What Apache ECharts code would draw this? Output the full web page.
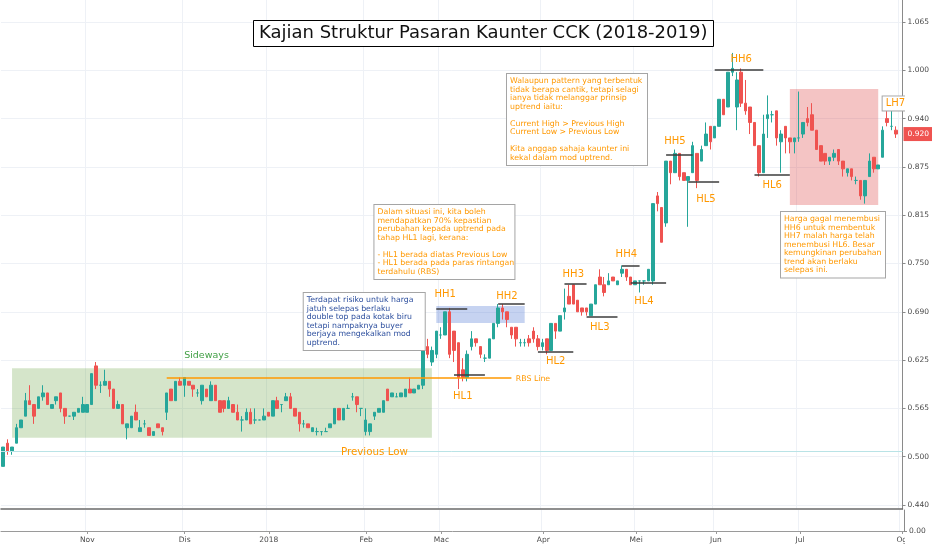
<!DOCTYPE html>
<html>
<head>
<meta charset="utf-8">
<script src="https://cdn.jsdelivr.net/npm/echarts@6.0.0/dist/echarts.min.js"></script>
<style>
  html, body { margin: 0; padding: 0; background: #fff; }
  #main { width: 932px; height: 550px; }
</style>
</head>
<body>
<div id="main"></div>
<script>
// daily candles (tick size 0.005)
const open = [
  0.49, 0.52, 0.51, 0.52, 0.54, 0.555, 0.575, 0.57, 0.565, 0.58,
  0.585, 0.565, 0.575, 0.585, 0.565, 0.555, 0.555, 0.56, 0.56, 0.56,
  0.57, 0.62, 0.595, 0.595, 0.60, 0.59, 0.565, 0.57, 0.54, 0.54,
  0.56, 0.535, 0.545, 0.54, 0.53, 0.545, 0.54, 0.56, 0.59, 0.575,
  0.60, 0.595, 0.60, 0.595, 0.585, 0.575, 0.59, 0.575, 0.595, 0.575,
  0.575, 0.565, 0.57, 0.56, 0.55, 0.55, 0.56, 0.55, 0.55, 0.55,
  0.56, 0.555, 0.575, 0.57, 0.575, 0.58, 0.565, 0.56, 0.545, 0.545,
  0.535, 0.535, 0.535, 0.535, 0.54, 0.545, 0.565, 0.55, 0.565, 0.58,
  0.58, 0.565, 0.535, 0.535, 0.555, 0.56, 0.56, 0.59, 0.58, 0.58,
  0.58, 0.58, 0.59, 0.585, 0.59, 0.595, 0.645, 0.625, 0.635, 0.66,
  0.66, 0.69, 0.665, 0.65, 0.615, 0.605, 0.645, 0.655, 0.645, 0.63,
  0.63, 0.655, 0.675, 0.695, 0.69, 0.67, 0.67, 0.65, 0.65, 0.655,
  0.665, 0.655, 0.645, 0.655, 0.64, 0.675, 0.665, 0.69, 0.71, 0.725,
  0.705, 0.695, 0.695, 0.685, 0.70, 0.735, 0.725, 0.725, 0.735, 0.725,
  0.74, 0.745, 0.735, 0.725, 0.73, 0.73, 0.73, 0.73, 0.84, 0.825,
  0.805, 0.885, 0.87, 0.895, 0.87, 0.86, 0.87, 0.895, 0.885, 0.905,
  0.93, 0.915, 0.93, 0.965, 0.955, 1.00, 0.955, 1.00, 0.96, 0.955,
  0.935, 0.905, 0.87, 0.94, 0.945, 0.95, 0.91, 0.93, 0.915, 0.91,
  0.915, 0.92, 0.94, 0.945, 0.925, 0.905, 0.895, 0.885, 0.89, 0.90,
  0.885, 0.87, 0.875, 0.86, 0.86, 0.84, 0.865, 0.89, 0.875, 0.89,
  0.94, 0.93, 0.925
];
const close = [
  0.515, 0.51, 0.515, 0.54, 0.55, 0.575, 0.57, 0.555, 0.58, 0.585,
  0.57, 0.57, 0.58, 0.565, 0.555, 0.555, 0.56, 0.565, 0.57, 0.57,
  0.61, 0.595, 0.595, 0.60, 0.59, 0.565, 0.57, 0.545, 0.545, 0.555,
  0.55, 0.54, 0.545, 0.53, 0.535, 0.54, 0.535, 0.585, 0.575, 0.60,
  0.595, 0.605, 0.595, 0.59, 0.585, 0.595, 0.58, 0.595, 0.575, 0.56,
  0.565, 0.575, 0.56, 0.55, 0.55, 0.56, 0.545, 0.55, 0.55, 0.555,
  0.555, 0.575, 0.565, 0.57, 0.58, 0.565, 0.555, 0.545, 0.545, 0.54,
  0.54, 0.535, 0.535, 0.535, 0.545, 0.565, 0.55, 0.565, 0.565, 0.58,
  0.57, 0.565, 0.55, 0.545, 0.56, 0.565, 0.575, 0.575, 0.585, 0.58,
  0.585, 0.59, 0.585, 0.59, 0.595, 0.64, 0.635, 0.64, 0.665, 0.66,
  0.69, 0.635, 0.64, 0.605, 0.605, 0.635, 0.655, 0.65, 0.635, 0.63,
  0.655, 0.675, 0.695, 0.69, 0.68, 0.66, 0.655, 0.65, 0.65, 0.65,
  0.655, 0.645, 0.65, 0.64, 0.675, 0.665, 0.685, 0.695, 0.70, 0.70,
  0.69, 0.69, 0.69, 0.70, 0.725, 0.725, 0.715, 0.73, 0.73, 0.73,
  0.745, 0.735, 0.725, 0.73, 0.73, 0.73, 0.745, 0.83, 0.83, 0.78,
  0.885, 0.87, 0.895, 0.865, 0.86, 0.865, 0.905, 0.86, 0.90, 0.92,
  0.91, 0.93, 0.965, 0.945, 1.00, 1.005, 0.99, 0.96, 0.95, 0.935,
  0.905, 0.87, 0.92, 0.945, 0.945, 0.915, 0.92, 0.915, 0.91, 0.915,
  0.915, 0.935, 0.935, 0.925, 0.90, 0.885, 0.885, 0.89, 0.895, 0.885,
  0.875, 0.875, 0.865, 0.86, 0.84, 0.86, 0.885, 0.875, 0.88, 0.925,
  0.935, 0.93, 0.92
];
const low = [
  0.49, 0.505, 0.505, 0.52, 0.54, 0.555, 0.57, 0.545, 0.565, 0.575,
  0.57, 0.565, 0.57, 0.56, 0.545, 0.555, 0.55, 0.56, 0.56, 0.56,
  0.57, 0.59, 0.585, 0.595, 0.58, 0.565, 0.565, 0.545, 0.525, 0.54,
  0.55, 0.535, 0.54, 0.53, 0.53, 0.54, 0.53, 0.55, 0.575, 0.575,
  0.595, 0.58, 0.595, 0.58, 0.58, 0.57, 0.58, 0.575, 0.575, 0.56,
  0.56, 0.565, 0.56, 0.55, 0.535, 0.55, 0.545, 0.545, 0.55, 0.55,
  0.555, 0.555, 0.565, 0.56, 0.575, 0.565, 0.555, 0.535, 0.54, 0.54,
  0.535, 0.53, 0.53, 0.535, 0.54, 0.545, 0.55, 0.55, 0.565, 0.575,
  0.56, 0.555, 0.53, 0.53, 0.55, 0.56, 0.56, 0.575, 0.58, 0.58,
  0.58, 0.58, 0.585, 0.585, 0.59, 0.59, 0.63, 0.62, 0.63, 0.655,
  0.66, 0.63, 0.625, 0.59, 0.60, 0.60, 0.64, 0.645, 0.63, 0.625,
  0.63, 0.655, 0.67, 0.68, 0.67, 0.655, 0.645, 0.645, 0.645, 0.645,
  0.65, 0.64, 0.64, 0.635, 0.64, 0.655, 0.665, 0.68, 0.70, 0.70,
  0.69, 0.685, 0.685, 0.685, 0.70, 0.725, 0.71, 0.725, 0.73, 0.725,
  0.735, 0.73, 0.725, 0.725, 0.715, 0.725, 0.73, 0.725, 0.82, 0.78,
  0.80, 0.855, 0.87, 0.86, 0.86, 0.80, 0.87, 0.85, 0.885, 0.905,
  0.90, 0.915, 0.93, 0.945, 0.955, 0.995, 0.925, 0.955, 0.945, 0.92,
  0.905, 0.865, 0.87, 0.915, 0.935, 0.905, 0.87, 0.895, 0.895, 0.895,
  0.91, 0.915, 0.93, 0.925, 0.90, 0.885, 0.88, 0.88, 0.885, 0.88,
  0.865, 0.865, 0.86, 0.855, 0.835, 0.83, 0.865, 0.87, 0.875, 0.89,
  0.93, 0.925, 0.915
];
const high = [
  0.515, 0.525, 0.515, 0.545, 0.55, 0.585, 0.595, 0.57, 0.58, 0.595,
  0.585, 0.57, 0.58, 0.585, 0.565, 0.555, 0.56, 0.565, 0.58, 0.57,
  0.61, 0.625, 0.60, 0.615, 0.60, 0.59, 0.575, 0.57, 0.545, 0.555,
  0.57, 0.55, 0.55, 0.54, 0.535, 0.545, 0.54, 0.585, 0.59, 0.60,
  0.605, 0.605, 0.60, 0.595, 0.59, 0.595, 0.59, 0.60, 0.595, 0.575,
  0.575, 0.58, 0.57, 0.57, 0.555, 0.565, 0.565, 0.565, 0.55, 0.565,
  0.56, 0.575, 0.58, 0.57, 0.585, 0.585, 0.565, 0.56, 0.55, 0.545,
  0.54, 0.54, 0.535, 0.54, 0.545, 0.565, 0.565, 0.565, 0.57, 0.585,
  0.58, 0.565, 0.565, 0.545, 0.56, 0.565, 0.575, 0.59, 0.585, 0.585,
  0.585, 0.59, 0.605, 0.59, 0.595, 0.64, 0.655, 0.645, 0.665, 0.67,
  0.69, 0.695, 0.665, 0.65, 0.63, 0.64, 0.665, 0.655, 0.645, 0.635,
  0.655, 0.675, 0.70, 0.70, 0.69, 0.67, 0.67, 0.655, 0.655, 0.66,
  0.67, 0.66, 0.655, 0.655, 0.675, 0.675, 0.685, 0.72, 0.725, 0.725,
  0.705, 0.695, 0.695, 0.70, 0.725, 0.745, 0.735, 0.74, 0.735, 0.73,
  0.75, 0.745, 0.735, 0.73, 0.73, 0.73, 0.745, 0.83, 0.845, 0.825,
  0.885, 0.885, 0.90, 0.895, 0.87, 0.865, 0.91, 0.895, 0.905, 0.935,
  0.93, 0.93, 0.965, 0.965, 1.00, 1.025, 1.00, 1.005, 0.99, 0.955,
  0.935, 0.905, 0.945, 0.97, 0.95, 0.95, 0.925, 0.93, 0.915, 0.915,
  0.975, 0.935, 0.955, 0.96, 0.925, 0.905, 0.895, 0.89, 0.90, 0.90,
  0.885, 0.875, 0.875, 0.865, 0.86, 0.86, 0.895, 0.89, 0.88, 0.93,
  0.952, 0.95, 0.93
];
const lastPrice = 0.92;

// price scale ticks (tradingview steps, shown rounded to tick size)
const priceTicks = [0.44, 0.5025, 0.565, 0.6275, 0.69, 0.7525, 0.815, 0.8775, 0.94, 1.0025, 1.065];
const priceLabels = ['0.440', '0.500', '0.565', '0.625', '0.690', '0.750', '0.815', '0.875', '0.940', '1.000', '1.065'];

// first trading day of each month, as a bar index
const monthIndex = [19, 41, 60, 82, 99, 122, 143, 161, 180, 203];
const monthLabels = ['Nov', 'Dis', '2018', 'Feb', 'Mac', 'Apr', 'Mei', 'Jun', 'Jul', 'Og'];

const dayCount = 204;
const categories = Array.from({ length: dayCount }, (_, i) => String(i));
const candles = open.map((o, i) => [o, close[i], low[i], high[i]]);

// swing levels: [label, from bar, to bar, price]
const swingLevels = [
  ['HH1', 97.5, 105.4, 0.694],
  ['HL1', 101.5, 108.5, 0.608],
  ['HH2', 111.5, 117.5, 0.70],
  ['HL2', 120.6, 128.7, 0.638],
  ['HH3', 126.5, 131.7, 0.726],
  ['HL3', 131.7, 138.7, 0.683],
  ['HH4', 139.6, 143.6, 0.749],
  ['HL4', 141.8, 149.7, 0.728],
  ['HH5', 149.7, 155.8, 0.893],
  ['HL5', 154.7, 161.7, 0.858],
  ['HH6', 160.8, 171.9, 1.003],
  ['HL6', 169.8, 177.7, 0.867],
  ['LH7', 198.1, 203.5, 0.94]
];
// where each swing tag sits: [label, bar, price]
const swingTags = [
  ['HH1', 99.8, 0.713], ['HL1', 103.9, 0.58], ['HH2', 114.0, 0.7105],
  ['HL2', 124.7, 0.626], ['HH3', 129.2, 0.738], ['HL3', 135.0, 0.670],
  ['HH4', 141.1, 0.764], ['HL4', 145.0, 0.703], ['HH5', 152.0, 0.911],
  ['HL5', 159.0, 0.836], ['HH6', 166.5, 1.016], ['HL6', 174.4, 0.853]
];

const ORANGE = '#ff9800';
const FONT = 'DejaVu Sans';

const noteUptrend = 'Walaupun pattern yang terbentuk\ntidak berapa cantik, tetapi selagi\nianya tidak melanggar prinsip\nuptrend iaitu:\n\nCurrent High > Previous High\nCurrent Low > Previous Low\n\nKita anggap sahaja kaunter ini\nkekal dalam mod uptrend.';
const noteHL1 = 'Dalam situasi ini, kita boleh\nmendapatkan 70% kepastian\nperubahan kepada uptrend pada\ntahap HL1 lagi, kerana:\n\n- HL1 berada diatas Previous Low\n- HL1 berada pada paras rintangan\nterdahulu (RBS)';
const noteRisk = 'Terdapat risiko untuk harga\njatuh selepas berlaku\ndouble top pada kotak biru\ntetapi nampaknya buyer\nberjaya mengekalkan mod\nuptrend.';
const noteFail = 'Harga gagal menembusi\nHH6 untuk membentuk\nHH7 malah harga telah\nmenembusi HL6. Besar\nkemungkinan perubahan\ntrend akan berlaku\nselepas ini.';

function isMonthStart(index) {
  return monthIndex.includes(index);
}

function tag(text, bar, price, extra) {
  return {
    coord: [bar, price],
    symbol: 'rect',
    symbolSize: 0,
    label: Object.assign({
      show: true,
      position: 'inside',
      formatter: text,
      color: ORANGE,
      fontFamily: FONT,
      fontSize: 10
    }, extra || {})
  };
}

function note(text, bar, price, width, color) {
  return tag(text, bar, price, {
    align: 'left',
    verticalAlign: 'top',
    width: width,
    color: color || ORANGE,
    fontSize: 7.8,
    lineHeight: 8.5,
    padding: [3, 3],
    backgroundColor: '#fff',
    borderColor: '#a5a5a5',
    borderWidth: 1
  });
}

const markLines = swingLevels.map(([name, a, b, p]) => [
  { coord: [a, p], lineStyle: { color: '#3c3c3c', width: 1.5, type: 'solid' } },
  { coord: [b, p] }
]);
markLines.push([
  { coord: [37.2, 0.605], lineStyle: { color: ORANGE, width: 1.5, type: 'solid' } },
  { coord: [114.5, 0.605] }
]);
markLines.push({ yAxis: 0.51, lineStyle: { color: '#b9e3e6', width: 1, type: 'solid' } });
markLines.push({
  yAxis: lastPrice,
  lineStyle: { color: 'rgba(0,0,0,0)', width: 1 },
  label: {
    show: true,
    position: 'end',
    distance: 1,
    formatter: lastPrice.toFixed(3),
    color: '#fff',
    backgroundColor: '#ef5350',
    fontFamily: FONT,
    fontSize: 7.5,
    padding: [3, 4]
  }
});

const markPoints = swingTags.map(([name, bar, p]) => tag(name, bar, p));
markPoints.push(tag('Sideways', 46.0, 0.633, { color: '#43a047', fontSize: 9.5 }));
markPoints.push(tag('Previous Low', 84.0, 0.5085, { fontSize: 10.3 }));
markPoints.push(tag('RBS Line', 115.6, 0.603, { align: 'left', fontSize: 7.8 }));
markPoints.push(tag('LH7', 199.4, 0.9596, {
  align: 'left', fontSize: 10, padding: [2, 3],
  backgroundColor: '#fff', borderColor: '#a5a5a5', borderWidth: 1
}));
markPoints.push(note(noteUptrend, 114.3, 0.9977, 134));
markPoints.push(note(noteHL1, 84.4, 0.8282, 134));
markPoints.push(note(noteRisk, 67.7, 0.7144, 115, '#2d4f9e'));
markPoints.push(note(noteFail, 176.2, 0.8192, 98));

const boxes = [
  [1.98, 97.3, 0.617, 0.527, 'rgba(100,160,60,0.27)'],
  [97.8, 118.3, 0.6975, 0.6755, 'rgba(66,110,210,0.3)'],
  [177.7, 198.1, 0.9783, 0.8282, 'rgba(220,60,60,0.3)']
];

const myChart = echarts.init(document.getElementById('main'));

const option = {
  animation: false,
  backgroundColor: '#fff',
  textStyle: { fontFamily: FONT },
  title: {
    text: 'Kajian Struktur Pasaran Kaunter CCK (2018-2019)',
    left: 253,
    top: 20,
    padding: [3, 6],
    borderColor: '#000',
    borderWidth: 1,
    backgroundColor: '#fff',
    textStyle: { fontFamily: FONT, fontSize: 18, fontWeight: 'normal', color: '#111', lineHeight: 21 }
  },
  grid: [
    { left: 1, right: 28, top: 0, bottom: 41 },
    { left: 1, right: 28, top: 510, bottom: 19 }
  ],
  xAxis: [
    {
      type: 'category',
      gridIndex: 0,
      data: categories,
      axisLine: { lineStyle: { color: '#6b6b6b', width: 1.5 } },
      axisTick: { show: false },
      axisLabel: { show: false },
      splitLine: { show: true, interval: (i) => isMonthStart(i), lineStyle: { color: '#eef1f6' } }
    },
    {
      type: 'category',
      gridIndex: 1,
      data: categories,
      axisLine: { lineStyle: { color: '#9a9a9a' } },
      axisTick: { show: true, interval: (i) => isMonthStart(i), alignWithLabel: true, length: 3, lineStyle: { color: '#9a9a9a' } },
      axisLabel: {
        interval: (i) => isMonthStart(i),
        formatter: (v, i) => monthLabels[monthIndex.indexOf(i)] || '',
        color: '#4a4a4a',
        fontSize: 7.5,
        margin: 5
      },
      splitLine: { show: true, interval: (i) => isMonthStart(i), lineStyle: { color: '#eef1f6' } }
    }
  ],
  yAxis: [
    {
      type: 'value',
      gridIndex: 0,
      position: 'right',
      min: 0.43483,
      max: 1.09347,
      axisLine: { show: true, lineStyle: { color: '#8a8a8a' } },
      axisTick: { show: true, customValues: priceTicks, length: 3, lineStyle: { color: '#8a8a8a' } },
      axisLabel: {
        customValues: priceTicks,
        formatter: (v) => priceLabels[priceTicks.findIndex((t) => Math.abs(t - v) < 1e-6)] || '',
        color: '#4a4a4a',
        fontSize: 7.5,
        margin: 5
      },
      splitLine: { show: true, lineStyle: { color: '#eef1f6' } }
    },
    {
      type: 'value',
      gridIndex: 1,
      position: 'right',
      min: 0,
      max: 1,
      axisLine: { show: true, lineStyle: { color: '#8a8a8a' } },
      axisTick: { show: true, customValues: [0], length: 3, lineStyle: { color: '#8a8a8a' } },
      axisLabel: { customValues: [0], formatter: () => '0.00', color: '#4a4a4a', fontSize: 7.5, margin: 5 },
      splitLine: { show: false }
    }
  ],
  series: [
    {
      name: 'CCK',
      type: 'candlestick',
      xAxisIndex: 0,
      yAxisIndex: 0,
      data: candles,
      barWidth: 3,
      itemStyle: {
        color: '#26a69a',
        color0: '#ef5350',
        borderColor: '#26a69a',
        borderColor0: '#ef5350',
        borderColorDoji: '#26a69a',
        borderWidth: 1
      },
      markArea: {
        silent: true,
        data: boxes.map(([a, b, top, bottom, color]) => [
          { coord: [a, top], itemStyle: { color: color } },
          { coord: [b, bottom] }
        ])
      },
      markLine: {
        silent: true,
        symbol: ['none', 'none'],
        label: { show: false },
        data: markLines
      },
      markPoint: {
        silent: true,
        data: markPoints
      }
    }
  ],
  graphic: [
    // the price scale hides whatever runs past the chart pane
    { type: 'rect', z: 100, shape: { x: 905, y: 92, width: 27, height: 22 }, style: { fill: '#fff' } },
    { type: 'rect', z: 100, shape: { x: 905, y: 534, width: 27, height: 16 }, style: { fill: '#fff' } }
  ]
};

myChart.setOption(option);

window.addEventListener('resize', function () {
  myChart.resize();
});
</script>
</body>
</html>
